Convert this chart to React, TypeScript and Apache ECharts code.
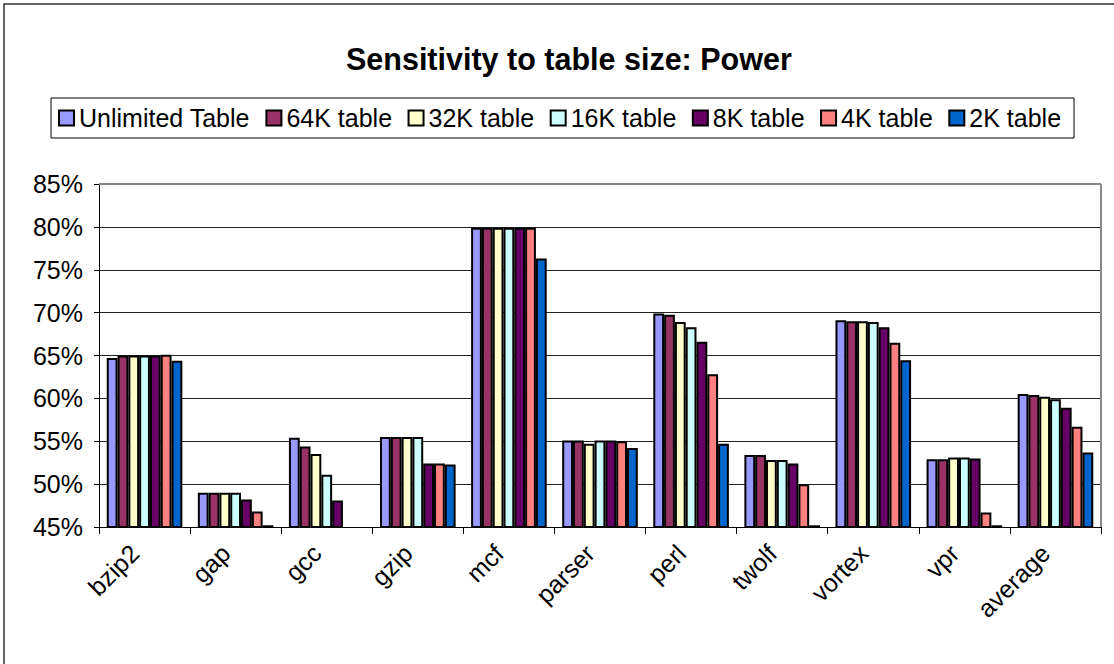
import React, { useEffect, useRef } from "react";
import * as echarts from "echarts";

const FONT = '"Liberation Sans", Arial, sans-serif';

const categories = ["bzip2", "gap", "gcc", "gzip", "mcf", "parser", "perl", "twolf", "vortex", "vpr", "average"];
const seriesNames = ["Unlimited Table", "64K table", "32K table", "16K table", "8K table", "4K table", "2K table"];
const seriesColors = ["#9999FF", "#993366", "#FFFFCC", "#CCFFFF", "#660066", "#FF8080", "#0066CC"];

const unlimited = [64.7, 49.0, 55.4, 55.5, 79.9, 55.1, 69.9, 53.4, 69.1, 52.9, 60.5];
const table64K = [65.0, 49.0, 54.4, 55.5, 79.9, 55.1, 69.75, 53.4, 69.0, 52.9, 60.4];
const table32K = [65.0, 49.0, 53.5, 55.5, 79.9, 54.7, 68.9, 52.8, 69.0, 53.1, 60.2];
const table16K = [65.0, 49.0, 51.1, 55.5, 79.9, 55.1, 68.3, 52.8, 68.9, 53.1, 59.9];
const table8K = [65.0, 48.2, 48.1, 52.4, 79.9, 55.1, 66.6, 52.4, 68.3, 53.0, 58.9];
const table4K = [65.1, 46.8, null, 52.4, 79.9, 55.0, 62.8, 50.0, 66.5, 46.7, 56.7];
const table2K = [64.4, 45.2, null, 52.3, 76.3, 54.2, 54.7, 45.2, 64.45, 45.2, 53.7];

const seriesValues = [unlimited, table64K, table32K, table16K, table8K, table4K, table2K];

const yMin = 45;
const yMax = 85;
const yStep = 5;

const GRID = { left: 99, right: 13, top: 184, bottom: 137 };
const W = 1114;
const H = 664;

export default function App() {
  const ref = useRef<HTMLDivElement>(null);
  useEffect(() => {
    if (!ref.current) return;
    const chart = echarts.init(ref.current, null, { renderer: "svg" });
    chart.setOption({
      animation: false,
      backgroundColor: "#ffffff",
      textStyle: { fontFamily: FONT },
      title: {
        text: "Sensitivity to table size: Power",
        left: 341,
        top: 39,
        textStyle: { fontFamily: FONT, fontSize: 30.5, fontWeight: "bold", color: "#000", lineHeight: 30 },
      },
      legend: {
        data: seriesNames,
        left: 51,
        top: 98,
        orient: "horizontal",
        padding: [5, 13, 5, 7],
        itemGap: 15.5,
        itemWidth: 15,
        itemHeight: 15,
        borderColor: "#000",
        borderWidth: 1,
        icon: "rect",
        itemStyle: { borderColor: "#000", borderWidth: 2 },
        textStyle: { fontFamily: FONT, fontSize: 25, color: "#000", lineHeight: 30 },
      },
      grid: { left: GRID.left, right: GRID.right, top: GRID.top, bottom: GRID.bottom, containLabel: false },
      xAxis: {
        type: "category",
        data: categories,
        boundaryGap: true,
        axisLine: { lineStyle: { color: "#000", width: 1 } },
        axisTick: { show: true, length: 7, lineStyle: { color: "#000" } },
        axisLabel: {
          rotate: 45,
          margin: 12,
          padding: [0, 14, 0, 0],
          fontFamily: FONT,
          fontSize: 25,
          color: "#000",
        },
      },
      yAxis: {
        type: "value",
        min: yMin,
        max: yMax,
        interval: yStep,
        axisLine: { show: true, lineStyle: { color: "#000", width: 1 } },
        axisTick: { show: true, length: 5, lineStyle: { color: "#000" } },
        axisLabel: {
          formatter: (v: number) => `${v}%`,
          margin: 16,
          fontFamily: FONT,
          fontSize: 25,
          color: "#000",
        },
        splitLine: { show: true, lineStyle: { color: "#222", width: 1 } },
      },
      graphic: [
        {
          type: "rect",
          shape: { x: 4, y: 4, width: W + 20, height: H + 20 },
          style: { fill: "none", stroke: "#333", lineWidth: 1.5 },
          silent: true,
          z: 0,
        },
        {
          type: "line",
          shape: { x1: GRID.left, y1: GRID.top, x2: W - GRID.right, y2: GRID.top },
          style: { stroke: "#888", lineWidth: 2 },
          z: 50,
        },
        {
          type: "line",
          shape: { x1: W - GRID.right, y1: GRID.top, x2: W - GRID.right, y2: H - GRID.bottom },
          style: { stroke: "#888", lineWidth: 2 },
          z: 50,
        },
      ],
      series: seriesNames.map((name, i) => ({
        name,
        type: "bar",
        data: seriesValues[i],
        barGap: "0%",
        barCategoryGap: "17%",
        itemStyle: { color: seriesColors[i], borderColor: "#000", borderWidth: 2 },
      })),
    });
    return () => chart.dispose();
  }, []);
  return <div ref={ref} style={{ position: "fixed", left: 0, top: 0, width: W, height: H }} />;
}
